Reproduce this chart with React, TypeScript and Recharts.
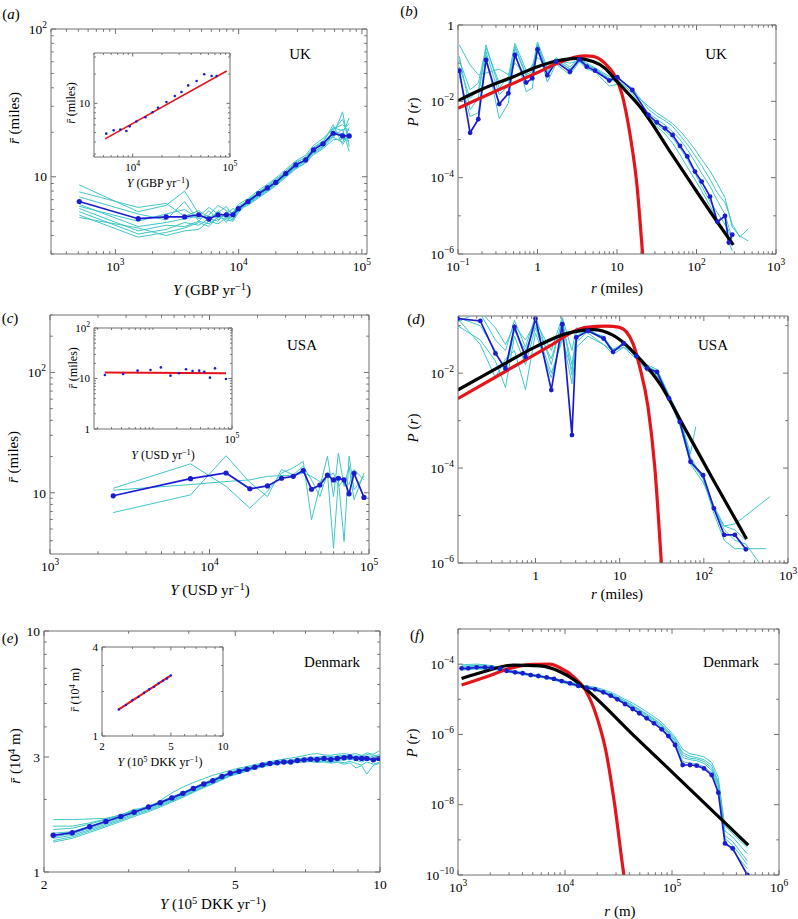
import React from 'react';
import { LineChart, Line, XAxis, YAxis, ReferenceLine } from 'recharts';

const FONT = '"Liberation Serif", "Times New Roman", Times, serif';
const FRAME = '#707070';
const CYAN = '#3fc6c9';
const BLUE = '#1b1bd0';
const RED = '#e3151b';
const BLACK = '#000000';

// (a) UK: mean distance vs income
const ukIncome = [509, 1530, 2580, 3640, 4750, 5740, 6800, 7940, 8990, 9940, 11900, 14500, 17100, 20000, 24100, 29100, 35000, 40500, 48400, 58400, 69700, 78900];
const ukMeanDist = [6.8, 5.2, 5.35, 5.35, 5.53, 5.18, 5.53, 5.53, 5.53, 6.08, 6.8, 7.68, 8.4, 9.16, 10.5, 12.05, 13.0, 15.2, 16.7, 19.7, 18.9, 18.9];
const ukSamples = [
  [8.8, 5.8, 6.4, 8.0, 5.6, 5.0, 5.9, 5.2, 5.6, 6.3, 6.9, 7.9, 8.6, 9.4, 10.9, 12.4, 13.6, 15.8, 17.5, 21.5, 20.5, 23.0],
  [7.9, 6.2, 6.6, 5.4, 5.9, 5.3, 5.7, 6.3, 5.4, 6.0, 6.6, 7.4, 8.2, 9.0, 10.2, 11.6, 12.8, 14.6, 16.2, 20.6, 24.5, 18.0],
  [7.3, 5.6, 5.1, 6.8, 5.0, 5.9, 5.1, 5.6, 6.1, 5.8, 7.0, 7.8, 8.7, 9.6, 10.8, 12.6, 13.4, 15.6, 17.2, 18.6, 17.0, 21.5],
  [6.5, 4.6, 4.9, 5.2, 5.4, 6.2, 5.6, 4.9, 5.8, 6.2, 6.5, 7.3, 8.0, 8.9, 10.2, 11.8, 12.7, 14.8, 16.0, 19.0, 27.5, 16.0],
  [6.1, 4.3, 4.7, 4.6, 5.0, 4.8, 5.3, 5.5, 5.2, 5.9, 6.9, 7.7, 8.5, 9.1, 10.4, 12.0, 13.2, 15.1, 16.9, 20.2, 19.5, 25.0],
  [5.8, 4.1, 4.4, 4.9, 4.7, 5.2, 5.0, 5.8, 5.4, 6.1, 6.6, 7.6, 8.3, 9.3, 10.6, 12.2, 12.9, 15.4, 17.0, 22.5, 16.5, 19.5],
  [5.5, 3.9, 4.2, 4.5, 4.9, 4.6, 5.4, 5.1, 5.0, 5.7, 6.7, 7.5, 8.1, 8.8, 10.1, 11.4, 12.5, 14.3, 15.8, 18.5, 21.0, 14.8],
  [5.3, 4.5, 4.0, 4.3, 4.4, 5.0, 4.8, 5.3, 5.1, 6.0, 6.4, 7.2, 7.9, 8.7, 9.9, 11.3, 12.4, 14.1, 15.5, 17.8, 18.0, 17.5],
  [6.3, 5.0, 5.6, 6.0, 5.2, 5.5, 6.4, 5.9, 5.7, 6.5, 7.1, 8.1, 8.9, 9.8, 11.2, 12.8, 14.0, 16.3, 18.2, 21.0, 22.5, 20.5],
];
const ukBinIncome = [5350, 6370, 7460, 8610, 9310, 10900, 13500, 16000, 18200, 22200, 27100, 31700, 37200, 45400, 54300, 64700, 72900];
const ukBinMean = [4.87, 5.27, 5.36, 5.19, 5.79, 6.5, 7.2, 8.1, 9.0, 10.3, 11.9, 13.1, 15.3, 17.0, 19.9, 19.1, 19.1];
const ukFitIncome = [5200, 92500];
const ukFitMean = [4.3, 21.5];

// (b) UK: distance distribution
const gbR = [0.104, 0.142, 0.18, 0.225, 0.33, 0.43, 0.52, 0.72, 0.86, 1.0, 1.33, 1.71, 2.56, 3.36, 4.16, 5.29, 8.0, 10.1, 15.6, 24.8, 31.6, 40.2, 50.1, 62, 76.6, 95.7, 116, 148, 183, 228, 255, 282];
const gbP = [0.0635, 0.0015, 0.0034, 0.121, 0.0085, 0.0162, 0.164, 0.031, 0.04, 0.23, 0.048, 0.109, 0.06, 0.126, 0.081, 0.0635, 0.035, 0.043, 0.0198, 0.0044, 0.0028, 0.00196, 0.00131, 0.00068, 0.00036, 1.44e-4, 7.9e-5, 3.2e-5, 7e-6, 9.9e-6, 2e-6, 3.2e-6];
const gbSamples = [
  [0.15, 0.006, 0.012, 0.3, 0.022, 0.045, 0.33, 0.065, 0.075, 0.36, 0.075, 0.14, 0.08, 0.14, 0.1, 0.075, 0.045, 0.04, 0.022, 0.0062, 0.0042, 0.0031, 0.0022, 0.0013, 7.5e-4, 3.8e-4, 2.1e-4, 9e-5, 4e-5, 2.2e-5, 1.2e-5, 6e-6],
  [0.3, 0.09, 0.05, 0.055, 0.07, 0.05, 0.1, 0.05, 0.09, 0.14, 0.09, 0.12, 0.1, 0.12, 0.09, 0.07, 0.04, 0.03, 0.012, 0.005, 0.0034, 0.0024, 0.0016, 0.001, 5.5e-4, 2.6e-4, 1.3e-4, 6e-5, 2.5e-5, 1.1e-5, 5e-6, 2.5e-6],
  [0.045, 0.004, 0.005, 0.16, 0.0035, 0.009, 0.2, 0.018, 0.022, 0.26, 0.032, 0.095, 0.05, 0.11, 0.07, 0.06, 0.025, 0.028, 0.013, 0.0032, 0.0022, 0.0014, 8e-4, 4e-4, 1.9e-4, 9e-5, 4.5e-5, 1.8e-5, 8e-6, 4e-6, 2e-6, 1.2e-6],
  [0.08, 0.012, 0.02, 0.2, 0.015, 0.025, 0.25, 0.045, 0.05, 0.3, 0.06, 0.12, 0.07, 0.11, 0.09, 0.07, 0.04, 0.038, 0.016, 0.0038, 0.0025, 0.0017, 0.0011, 6e-4, 3e-4, 1.3e-4, 6e-5, 2.4e-5, 1.2e-5, 6e-6, 4e-6, 2e-6],
  [0.12, 0.02, 0.03, 0.25, 0.03, 0.035, 0.28, 0.05, 0.06, 0.32, 0.055, 0.13, 0.07, 0.13, 0.095, 0.07, 0.038, 0.036, 0.017, 0.0075, 0.005, 0.0036, 0.0026, 0.0017, 0.001, 5.5e-4, 3e-4, 1.5e-4, 7e-5, 3e-5, 1.2e-5, 5e-6],
];
const gbTailR = [350, 447];
const gbSampleTails = [[2.8e-6, 4.5e-6], [], [], [], [3e-6, 2.2e-6]];
const gbFitR = [0.1, 0.2, 0.5, 1, 2, 3, 5, 7, 10, 19.5, 50, 91, 198, 290];
const gbFitP = [0.0104, 0.0207, 0.0443, 0.081, 0.121, 0.134, 0.11, 0.075, 0.033, 0.0072, 3.85e-4, 5.9e-5, 5.4e-6, 1.74e-6];
const gbGravR = [0.1, 0.3, 1, 2, 3, 4, 5, 6, 7, 9, 11.5, 14.5, 17.9, 21, 23];
const gbGravP = [0.0066, 0.0186, 0.057, 0.11, 0.145, 0.155, 0.15, 0.13, 0.1, 0.054, 0.016, 0.00145, 5.8e-5, 1e-6, 1e-7];

// (c) USA: mean distance vs income
const usIncome = [2490, 7600, 12700, 17900, 23100, 28300, 33500, 38700, 43600, 49200, 54900, 59900, 64300, 69800, 75000, 80600, 93000];
const usMeanDist = [9.44, 13.1, 14.6, 10.8, 11.4, 13.2, 13.7, 15.3, 10.7, 11.6, 14.0, 12.8, 13.2, 12.8, 9.8, 14.5, 9.15];
const usSamples = [
  [10.9, 17.4, 11.3, 7.45, 10.3, 14.6, 16.1, 18.2, 5.96, 11.3, 20.1, 9.3, 21.4, 11.3, 16.6, 8.75, 14.6],
  [6.85, 9.6, 20.3, 12.2, 9.3, 15.6, 14.1, 16.6, 12.8, 9.3, 14.6, 3.46, 12.8, 3.93, 20.1, 10.6, 13.7],
  [10.5, 11.7, 12.4, 12.8, 13.7, 13.9, 13.9, 14.6, 13.7, 12.4, 13.7, 14.6, 11.3, 12.8, 11.7, 15.6, 12.8],
];
const usBinIncome = [2470, 4210, 6400, 9330, 12600, 16700, 21300, 26200, 31700, 38500, 44600, 52700, 61000, 84000];
const usBinMean = [11.7, 12.3, 14.3, 14.7, 16.6, 11.4, 12.7, 15.2, 14.1, 14.3, 13.6, 10.4, 15.9, 9.8];
const usFitIncome = [2470, 84000];
const usFitMean = [13.2, 12.7];

// (d) USA: distance distribution
const usR = [0.119, 0.221, 0.334, 0.44, 0.562, 0.76, 1.0, 1.54, 2.08, 2.71, 3.05, 4.2, 6.45, 8.33, 11.2, 15.8, 21.1, 27.8, 38.6, 51.8, 69.4, 98, 131.6, 174.6, 234, 316];
const usP = [0.1415, 0.126, 0.026, 0.0126, 0.0944, 0.022, 0.1415, 0.0044, 0.1076, 0.000495, 0.0565, 0.0778, 0.0537, 0.0281, 0.0422, 0.0228, 0.0126, 0.0106, 0.00293, 0.00094, 0.000136, 7.1e-5, 1.42e-5, 3.9e-6, 3.9e-6, 1.94e-6];
const usPSamples = [
  [0.16, 0.18, 0.05, 0.03, 0.13, 0.035, 0.16, 0.015, 0.14, 0.009, 0.07, 0.08, 0.05, 0.032, 0.04, 0.025, 0.014, 0.011, 0.0033, 0.0011, 1.7e-4, 6e-5, 1.6e-5, 6e-6, 5e-6, 3e-6],
  [0.1, 0.05, 0.018, 0.005, 0.06, 0.015, 0.09, 0.01, 0.05, 0.012, 0.045, 0.075, 0.06, 0.03, 0.045, 0.02, 0.012, 0.009, 0.0028, 8e-4, 1.3e-4, 6e-5, 1.1e-5, 3e-6, 2e-6, 2e-6],
  [0.14, 0.04, 0.008, 0.02, 0.03, 0.0045, 0.07, 0.008, 0.06, 0.006, 0.035, 0.06, 0.04, 0.025, 0.035, 0.02, 0.011, 0.01, 0.0027, 9e-4, 1.2e-4, 5e-5, 1.5e-5, 5e-6, 3e-6, 2.5e-6],
  [0.12, 0.2, 0.09, 0.04, 0.1, 0.05, 0.12, 0.03, 0.15, 0.03, 0.09, 0.07, 0.04, 0.03, 0.035, 0.025, 0.015, 0.012, 0.0035, 0.0012, 2e-4],
  [0.15, 0.1, 0.03, 0.01, 0.08, 0.03, 0.1, 0.02, 0.12, 0.015, 0.06, 0.085, 0.055, 0.03, 0.04, 0.022, 0.013, 0.01, 0.003, 9e-4, 1.5e-4, 6e-5, 1.4e-5, 6e-6, 6.7e-6, 1e-5],
];
const usTailR = [[], [550], [500], [80], [611]];
const usTailP = [[], [2e-6], [8e-7], [7.4e-4], [2.5e-5]];
const usFitR = [0.119, 0.37, 1.0, 2.32, 4.8, 8.3, 12, 15.8, 30, 57, 128, 322];
const usFitP = [0.0044, 0.0136, 0.0358, 0.068, 0.083, 0.063, 0.039, 0.024, 0.006, 7.9e-4, 5.8e-5, 3.2e-6];
const usGravR = [0.119, 0.5, 1.5, 3.05, 4.0, 6.94, 10, 14.4, 17.3, 21.7, 26.1, 31.3, 34];
const usGravP = [0.0029, 0.0124, 0.038, 0.08, 0.092, 0.098, 0.092, 0.042, 0.0136, 0.00195, 1.07e-4, 1e-6, 1e-7];

// (e) Denmark: mean distance vs income
const dkIncome = [2.09, 2.29, 2.49, 2.69, 2.89, 3.08, 3.3, 3.49, 3.69, 3.89, 4.09, 4.3, 4.49, 4.69, 4.88, 5.09, 5.29, 5.49, 5.69, 5.9, 6.11, 6.31, 6.52, 6.73, 6.95, 7.17, 7.4, 7.65, 7.9, 8.15, 8.42, 8.66, 8.92, 9.16, 9.39, 9.69, 9.96];
const dkMeanDist = [1.42, 1.456, 1.54, 1.62, 1.7, 1.77, 1.86, 1.94, 2.03, 2.12, 2.22, 2.32, 2.39, 2.49, 2.57, 2.62, 2.67, 2.72, 2.78, 2.82, 2.84, 2.86, 2.86, 2.9, 2.92, 2.94, 2.93, 2.96, 2.93, 2.96, 2.98, 3.0, 2.96, 2.96, 2.96, 2.92, 2.96];
const dkSamples = [
  [1.65, 1.65, 1.66, 1.67, 1.72, 1.82, 1.84, 1.98, 2.13, 2.25, 2.35, 2.44, 2.52, 2.58, 2.64, 2.7, 2.74, 2.79, 2.83, 2.87, 2.91, 2.94, 2.97, 3.0, 3.04, 3.08, 3.1, 3.06, 3.05, 3.08, 3.1, 3.07, 3.1, 3.04, 3.12, 3.08, 3.18],
  [1.5, 1.52, 1.58, 1.65, 1.72, 1.79, 1.87, 1.95, 2.04, 2.13, 2.23, 2.33, 2.41, 2.5, 2.58, 2.64, 2.69, 2.74, 2.8, 2.84, 2.87, 2.89, 2.9, 2.93, 2.95, 2.97, 2.98, 3.0, 3.02, 3.0, 3.04, 3.03, 3.0, 3.05, 2.98, 3.02, 3.07],
  [1.45, 1.47, 1.55, 1.63, 1.71, 1.78, 1.86, 1.94, 2.02, 2.1, 2.2, 2.29, 2.37, 2.46, 2.54, 2.6, 2.65, 2.71, 2.76, 2.8, 2.83, 2.85, 2.86, 2.88, 2.9, 2.92, 2.91, 2.94, 2.9, 2.93, 2.95, 2.92, 2.97, 2.9, 2.94, 2.88, 2.93],
  [1.38, 1.42, 1.5, 1.58, 1.66, 1.74, 1.82, 1.9, 1.98, 2.07, 2.16, 2.26, 2.34, 2.43, 2.52, 2.58, 2.64, 2.7, 2.75, 2.79, 2.82, 2.84, 2.85, 2.87, 2.88, 2.9, 2.88, 2.9, 2.87, 2.9, 2.92, 2.95, 2.9, 2.86, 2.92, 2.95, 2.9],
  [1.35, 1.4, 1.48, 1.56, 1.64, 1.72, 1.8, 1.88, 1.97, 2.06, 2.15, 2.25, 2.33, 2.42, 2.51, 2.58, 2.63, 2.69, 2.74, 2.78, 2.81, 2.83, 2.84, 2.86, 2.87, 2.89, 2.86, 2.88, 2.85, 2.87, 2.84, 2.88, 2.82, 2.78, 2.86, 2.8, 2.85],
  [1.33, 1.38, 1.46, 1.54, 1.62, 1.7, 1.78, 1.86, 1.95, 2.04, 2.14, 2.24, 2.32, 2.41, 2.5, 2.56, 2.62, 2.68, 2.73, 2.77, 2.8, 2.82, 2.83, 2.85, 2.86, 2.87, 2.85, 2.86, 2.83, 2.85, 2.8, 2.84, 2.7, 2.76, 2.55, 2.77, 2.82],
  [1.55, 1.55, 1.6, 1.66, 1.73, 1.8, 1.88, 1.96, 2.05, 2.14, 2.24, 2.34, 2.43, 2.52, 2.6, 2.66, 2.71, 2.76, 2.81, 2.85, 2.88, 2.9, 2.91, 2.95, 2.97, 2.99, 3.0, 3.02, 2.98, 3.03, 3.05, 3.0, 3.04, 3.0, 3.07, 3.05, 3.0],
  [1.4, 1.44, 1.52, 1.6, 1.68, 1.76, 1.84, 1.92, 2.0, 2.09, 2.18, 2.28, 2.36, 2.45, 2.53, 2.6, 2.66, 2.72, 2.77, 2.81, 2.85, 2.87, 2.88, 2.91, 2.93, 2.95, 2.94, 2.97, 2.95, 2.98, 3.0, 2.97, 2.99, 2.92, 2.99, 2.96, 3.02],
];
const dkBinIncome = [2.5, 2.75, 3.0, 3.25, 3.5, 3.75, 4.0, 4.25, 4.5, 4.75, 5.0];
const dkBinMean = [1.51, 1.62, 1.75, 1.84, 1.96, 2.07, 2.15, 2.27, 2.37, 2.45, 2.57];
const dkFitIncome = [2.49, 4.98];
const dkFitMean = [1.51, 2.56];

// (f) Denmark: distance distribution (m)
const dkR = [1080, 1249, 1494, 1788, 2064, 2470, 2850, 3410, 4020, 4780, 5630, 6740, 7890, 9310, 11140, 13320, 15940, 19070, 22820, 26720, 30840, 36370, 42900, 49520, 57990, 67890, 80100, 92400, 106700, 125800, 147300, 170100, 199100, 234900, 271000, 312800, 369000, 505800];
const dkP = [7.6e-5, 7.6e-5, 8.1e-5, 8.1e-5, 7.9e-5, 7.4e-5, 6.4e-5, 5.85e-5, 5.5e-5, 4.9e-5, 4.6e-5, 4.2e-5, 3.8e-5, 3.3e-5, 2.85e-5, 2.4e-5, 2.14e-5, 1.92e-5, 1.58e-5, 1.27e-5, 1.0e-5, 7.3e-6, 5.3e-6, 4.0e-6, 2.87e-6, 2.07e-6, 1.4e-6, 9.0e-7, 5.0e-7, 1.35e-7, 1.35e-7, 1.29e-7, 1.08e-7, 7.0e-8, 2.2e-8, 7.9e-10, 5.7e-10, 1e-10];
const dkPSamples = [
  [9.5e-5, 9.8e-5, 1.0e-4, 9.6e-5, 9.0e-5, 8.0e-5, 7.0e-5, 6.3e-5, 5.8e-5, 5.2e-5, 4.8e-5, 4.4e-5, 4.0e-5, 3.5e-5, 3.1e-5, 2.7e-5, 2.4e-5, 2.2e-5, 1.9e-5, 1.6e-5, 1.3e-5, 1.0e-5, 7.8e-6, 6.0e-6, 4.4e-6, 3.2e-6, 2.2e-6, 1.4e-6, 8.5e-7, 3.8e-7, 2.8e-7, 2.6e-7, 2.3e-7, 1.6e-7, 6e-8, 1.8e-9, 1.2e-9, 4e-10],
  [8.8e-5, 9.0e-5, 9.2e-5, 8.8e-5, 8.4e-5, 7.8e-5, 6.8e-5, 6.1e-5, 5.7e-5, 5.1e-5, 4.7e-5, 4.3e-5, 3.9e-5, 3.4e-5, 3.0e-5, 2.6e-5, 2.3e-5, 2.05e-5, 1.75e-5, 1.45e-5, 1.18e-5, 9.0e-6, 6.8e-6, 5.2e-6, 3.8e-6, 2.8e-6, 1.9e-6, 1.25e-6, 7.5e-7, 3.0e-7, 2.4e-7, 2.2e-7, 1.9e-7, 1.3e-7, 4.5e-8, 1.3e-9, 9e-10, 2.5e-10],
  [7.0e-5, 7.2e-5, 7.5e-5, 7.6e-5, 7.6e-5, 7.2e-5, 6.3e-5, 5.7e-5, 5.3e-5, 4.8e-5, 4.4e-5, 4.0e-5, 3.6e-5, 3.2e-5, 2.8e-5, 2.4e-5, 2.15e-5, 1.9e-5, 1.6e-5, 1.32e-5, 1.06e-5, 8.0e-6, 6.0e-6, 4.6e-6, 3.3e-6, 2.4e-6, 1.65e-6, 1.05e-6, 6.2e-7, 2.2e-7, 1.9e-7, 1.8e-7, 1.5e-7, 9.5e-8, 3.5e-8, 1.1e-9, 7e-10, 2e-10],
  [8.2e-5, 8.5e-5, 8.8e-5, 8.5e-5, 8.2e-5, 7.6e-5, 6.6e-5, 6.0e-5, 5.6e-5, 5.0e-5, 4.6e-5, 4.2e-5, 3.8e-5, 3.35e-5, 2.95e-5, 2.55e-5, 2.25e-5, 2.0e-5, 1.7e-5, 1.4e-5, 1.12e-5, 8.6e-6, 6.4e-6, 4.9e-6, 3.6e-6, 2.6e-6, 1.8e-6, 1.15e-6, 6.8e-7, 2.6e-7, 2.1e-7, 2.0e-7, 1.7e-7, 1.1e-7, 4e-8, 2.5e-9, 1.5e-9, 6e-10],
  [6.8e-5, 7.0e-5, 7.3e-5, 7.2e-5, 7.0e-5, 6.8e-5, 6.0e-5, 5.5e-5, 5.1e-5, 4.6e-5, 4.3e-5, 3.9e-5, 3.5e-5, 3.0e-5, 2.6e-5, 2.25e-5, 2.0e-5, 1.8e-5, 1.5e-5, 1.22e-5, 9.6e-6, 7.2e-6, 5.4e-6, 4.1e-6, 3.0e-6, 2.15e-6, 1.5e-6, 9.5e-7, 5.5e-7, 1.7e-7, 1.5e-7, 1.45e-7, 1.2e-7, 8e-8, 3e-8, 9e-10, 5e-10, 1.5e-10],
];
const dkFitR = [1080, 1730, 3290, 5840, 8980, 12000, 16000, 43500, 127600, 516000];
const dkFitP = [3.9e-5, 6.1e-5, 9.4e-5, 8.9e-5, 6.1e-5, 3.7e-5, 1.84e-5, 9.6e-7, 4.2e-8, 7.1e-10];
const dkGravR = [1080, 1850, 3060, 5060, 7240, 8980, 12000, 15500, 19800, 24000, 29000, 35500, 40000];
const dkGravP = [2.55e-5, 4.4e-5, 7.6e-5, 9.9e-5, 1.0e-4, 7.9e-5, 4.4e-5, 1.84e-5, 3.2e-6, 3.6e-7, 1.1e-8, 1e-10, 1e-11];

type Pt = { x: number; y: number };
const pts = (xs: number[], ys: number[], tx: number[] = [], ty: number[] = []): Pt[] => [
  ...ys.map((y, i) => ({ x: xs[i], y })),
  ...ty.map((y, i) => ({ x: tx[i], y })),
];

type Lab = string | [string, string];
const pow10 = (v: number): Lab => {
  const e = Math.round(Math.log10(v));
  if (e === 0) return '1';
  if (e === 1) return '10';
  return ['10', e < 0 ? '\u2212' + -e : String(e)];
};
const plain = (v: number): Lab => String(v);

function logTicks(lo: number, hi: number, steps: number[]): number[] {
  const out: number[] = [];
  for (let e = Math.floor(Math.log10(lo)); e <= Math.ceil(Math.log10(hi)); e++) {
    for (const m of steps) {
      const v = m * Math.pow(10, e);
      if (v >= lo * 0.999 && v <= hi * 1.001) out.push(v);
    }
  }
  return out;
}
const MIN = [2, 3, 4, 5, 6, 7, 8, 9];
const near = (list: number[], v: number) => list.some((m) => Math.abs(m - v) <= Math.abs(m) * 1e-6);

function TickText({ x, y, anchor, lab, fs }: { x: number; y: number; anchor: 'start' | 'middle' | 'end'; lab: Lab; fs: number }) {
  if (typeof lab === 'string')
    return (
      <text x={x} y={y} textAnchor={anchor} fontSize={fs} fontFamily={FONT} fill="#000">
        {lab}
      </text>
    );
  return (
    <text x={x} y={y} textAnchor={anchor} fontSize={fs} fontFamily={FONT} fill="#000">
      {lab[0]}
      <tspan dy={-fs * 0.42} fontSize={fs * 0.7}>
        {lab[1]}
      </tspan>
    </text>
  );
}

interface Series { data: Pt[]; color: string; width: number; dot?: number; curve?: 'linear' | 'monotone'; hideLine?: boolean }
interface AxisSpec { domain: [number, number]; major: number[]; minor: number[]; fmt: (v: number) => Lab }
interface PanelProps { left: number; top: number; width: number; height: number; x: AxisSpec; y: AxisSpec; series: Series[]; fs: number; tick: number }

function LogPanel({ left, top, width, height, x, y, series, fs, tick }: PanelProps) {
  const padL = 50, padR = 18, padT = 12, padB = 30;
  const xTicks = [...x.major, ...x.minor.filter((v) => !near(x.major, v))].sort((a, b) => a - b);
  const yTicks = [...y.major, ...y.minor.filter((v) => !near(y.major, v))].sort((a, b) => a - b);

  const xTick = (props: any) => {
    const px = props.x, py = props.y, v = props.payload.value;
    const major = near(x.major, v);
    const len = major ? tick : tick * 0.55;
    return (
      <g>
        <line x1={px} x2={px} y1={py} y2={py - len} stroke={FRAME} />
        <line x1={px} x2={px} y1={py - height} y2={py - height + len} stroke={FRAME} />
        {major && <TickText x={px} y={py + fs + 3} anchor="middle" lab={x.fmt(v)} fs={fs} />}
      </g>
    );
  };
  const yTick = (props: any) => {
    const px = props.x, py = props.y, v = props.payload.value;
    const major = near(y.major, v);
    const len = major ? tick : tick * 0.55;
    return (
      <g>
        <line x1={px} x2={px + len} y1={py} y2={py} stroke={FRAME} />
        <line x1={px + width} x2={px + width - len} y1={py} y2={py} stroke={FRAME} />
        {major && <TickText x={px - 4} y={py + fs * 0.35} anchor="end" lab={y.fmt(v)} fs={fs} />}
      </g>
    );
  };

  return (
    <div style={{ position: 'absolute', left: left - padL, top: top - padT }}>
      <LineChart width={width + padL + padR} height={height + padT + padB} margin={{ top: padT, right: padR, bottom: 0, left: 0 }}>
        <XAxis dataKey="x" type="number" scale="log" domain={x.domain} allowDataOverflow ticks={xTicks} interval={0}
          tick={xTick} tickLine={false} tickSize={0} tickMargin={0} axisLine={{ stroke: FRAME }} height={padB} />
        <YAxis dataKey="y" type="number" scale="log" domain={y.domain} allowDataOverflow ticks={yTicks} interval={0}
          tick={yTick} tickLine={false} tickSize={0} tickMargin={0} axisLine={{ stroke: FRAME }} width={padL} />
        <ReferenceLine y={y.domain[1]} stroke={FRAME} />
        <ReferenceLine x={x.domain[1]} stroke={FRAME} />
        {series.map((s, i) => (
          <Line key={i} data={s.data} dataKey="y" type={s.curve ?? 'linear'}
            stroke={s.hideLine ? 'none' : s.color} strokeWidth={s.width}
            dot={s.dot ? { r: s.dot, fill: s.color, stroke: 'none' } : false}
            activeDot={false} isAnimationActive={false} />
        ))}
      </LineChart>
    </div>
  );
}

function Txt({ x, y, size = 15, rotate = false, children }: { x: number; y: number; size?: number; rotate?: boolean; children: React.ReactNode }) {
  return (
    <div style={{ position: 'absolute', left: x, top: y, transform: `translate(-50%, -50%)${rotate ? ' rotate(-90deg)' : ''}`,
      fontSize: size, lineHeight: 1, whiteSpace: 'nowrap', fontFamily: FONT, color: '#000' }}>
      {children}
    </div>
  );
}
const Sup = ({ children }: { children: React.ReactNode }) => (
  <sup style={{ fontSize: '0.7em', verticalAlign: '0.45em', lineHeight: 0 }}>{children}</sup>
);
const RBar = () => <i>r&#772;</i>;

const cyanLines = (xs: number[], sets: number[][], tx: number[][] = [], ty: number[][] = []): Series[] =>
  sets.map((ys, i) => ({ data: pts(xs, ys, tx[i] ?? [], ty[i] ?? []), color: CYAN, width: 1 }));

export default function App() {
  const big = 13.5;
  const small = 11;
  return (
    <div style={{ position: 'absolute', left: 0, top: 0, width: 798, height: 919, background: '#fff', overflow: 'hidden' }}>
      {/* (a) */}
      <LogPanel left={51} top={29} width={316} height={225} fs={big} tick={5}
        x={{ domain: [300, 110000], major: [1e3, 1e4, 1e5], minor: logTicks(300, 110000, MIN), fmt: pow10 }}
        y={{ domain: [3, 100], major: [10, 100], minor: logTicks(3, 100, MIN), fmt: pow10 }}
        series={[
          ...cyanLines(ukIncome, ukSamples),
          { data: pts(ukIncome, ukMeanDist), color: BLUE, width: 1.7, dot: 2.6 },
        ]} />
      <LogPanel left={94} top={53} width={136} height={104} fs={small} tick={3.5}
        x={{ domain: [4000, 100000], major: [1e4, 1e5], minor: logTicks(4000, 100000, MIN), fmt: pow10 }}
        y={{ domain: [2.8, 33], major: [10], minor: logTicks(2.8, 33, MIN), fmt: pow10 }}
        series={[
          { data: pts(ukFitIncome, ukFitMean), color: RED, width: 1.6 },
          { data: pts(ukBinIncome, ukBinMean), color: BLUE, width: 0, dot: 1.3, hideLine: true },
        ]} />

      {/* (b) */}
      <LogPanel left={458} top={25} width={318} height={229} fs={big} tick={5}
        x={{ domain: [0.1, 1000], major: [0.1, 1, 10, 100, 1000], minor: logTicks(0.1, 1000, MIN), fmt: pow10 }}
        y={{ domain: [1e-6, 1], major: [1e-6, 1e-4, 1e-2, 1], minor: logTicks(1e-6, 1, [1]), fmt: pow10 }}
        series={[
          ...cyanLines(gbR, gbSamples, gbSampleTails.map((t) => gbTailR.slice(0, t.length)), gbSampleTails),
          { data: pts(gbR, gbP), color: BLUE, width: 1.7, dot: 2.4 },
          { data: pts(gbGravR, gbGravP), color: RED, width: 3.2, curve: 'monotone' },
          { data: pts(gbFitR, gbFitP), color: BLACK, width: 3.2, curve: 'monotone' },
        ]} />

      {/* (c) */}
      <LogPanel left={50} top={315} width={319} height={239} fs={big} tick={5}
        x={{ domain: [1000, 100000], major: [1e3, 1e4, 1e5], minor: logTicks(1000, 100000, MIN), fmt: pow10 }}
        y={{ domain: [3.1, 300], major: [10, 100], minor: logTicks(3.1, 300, MIN), fmt: pow10 }}
        series={[
          ...cyanLines(usIncome, usSamples),
          { data: pts(usIncome, usMeanDist), color: BLUE, width: 1.7, dot: 2.6 },
        ]} />
      <LogPanel left={94} top={328} width={138} height={101} fs={small} tick={3.5}
        x={{ domain: [1800, 100000], major: [1e5], minor: logTicks(1800, 100000, MIN.concat([1])), fmt: pow10 }}
        y={{ domain: [1, 100], major: [1, 10, 100], minor: logTicks(1, 100, MIN), fmt: pow10 }}
        series={[
          { data: pts(usFitIncome, usFitMean), color: RED, width: 2 },
          { data: pts(usBinIncome, usBinMean), color: BLUE, width: 0, dot: 1.3, hideLine: true },
        ]} />

      {/* (d) */}
      <LogPanel left={458} top={316} width={330} height={247} fs={big} tick={5}
        x={{ domain: [0.12, 1000], major: [1, 10, 100, 1000], minor: logTicks(0.12, 1000, MIN), fmt: pow10 }}
        y={{ domain: [1e-6, 0.16], major: [1e-6, 1e-4, 1e-2], minor: logTicks(1e-6, 0.16, [1]), fmt: pow10 }}
        series={[
          ...cyanLines(usR, usPSamples, usTailR, usTailP),
          { data: pts(usR, usP), color: BLUE, width: 1.7, dot: 2.4 },
          { data: pts(usGravR, usGravP), color: RED, width: 3.2, curve: 'monotone' },
          { data: pts(usFitR, usFitP), color: BLACK, width: 3.2, curve: 'monotone' },
        ]} />

      {/* (e) */}
      <LogPanel left={44} top={631} width={336} height={241} fs={big} tick={5}
        x={{ domain: [2, 10], major: [2, 5, 10], minor: [3, 4, 6, 7, 8, 9], fmt: plain }}
        y={{ domain: [1, 10], major: [1, 3, 10], minor: [2, 4, 5, 6, 7, 8, 9], fmt: plain }}
        series={[
          ...cyanLines(dkIncome, dkSamples),
          { data: pts(dkIncome, dkMeanDist), color: BLUE, width: 1.7, dot: 2.7 },
        ]} />
      <LogPanel left={102} top={647} width={121} height={89} fs={small} tick={3.5}
        x={{ domain: [2, 10], major: [2, 5, 10], minor: [3, 4, 6, 7, 8, 9], fmt: plain }}
        y={{ domain: [1, 4], major: [1, 4], minor: [2, 3], fmt: plain }}
        series={[
          { data: pts(dkFitIncome, dkFitMean), color: RED, width: 2 },
          { data: pts(dkBinIncome, dkBinMean), color: BLUE, width: 0, dot: 1.2, hideLine: true },
        ]} />

      {/* (f) */}
      <LogPanel left={458} top={629} width={321} height={246} fs={big} tick={5}
        x={{ domain: [1000, 1e6], major: [1e3, 1e4, 1e5, 1e6], minor: logTicks(1000, 1e6, MIN), fmt: pow10 }}
        y={{ domain: [1e-10, 1e-3], major: [1e-10, 1e-8, 1e-6, 1e-4], minor: logTicks(1e-10, 1e-3, [1]), fmt: pow10 }}
        series={[
          ...cyanLines(dkR, dkPSamples),
          { data: pts(dkR, dkP), color: BLUE, width: 1.7, dot: 2.4 },
          { data: pts(dkGravR, dkGravP), color: RED, width: 3.2, curve: 'monotone' },
          { data: pts(dkFitR, dkFitP), color: BLACK, width: 3.2, curve: 'monotone' },
        ]} />

      {/* text */}
      <Txt x={11} y={14}>(<i>a</i>)</Txt>
      <Txt x={300} y={54}>UK</Txt>
      <Txt x={14} y={118} rotate><RBar /> (miles)</Txt>
      <Txt x={212} y={290}><i>Y</i> (GBP yr<Sup>−1</Sup>)</Txt>
      <Txt x={158} y={183} size={12}><i>Y</i> (GBP yr<Sup>−1</Sup>)</Txt>
      <Txt x={71} y={103} size={12} rotate><RBar /> (miles)</Txt>

      <Txt x={409} y={11}>(<i>b</i>)</Txt>
      <Txt x={716} y={54}>UK</Txt>
      <Txt x={413} y={112} rotate><i>P</i> (<i>r</i>)</Txt>
      <Txt x={617} y={288}><i>r</i> (miles)</Txt>

      <Txt x={10} y={318}>(<i>c</i>)</Txt>
      <Txt x={302} y={345}>USA</Txt>
      <Txt x={13} y={457} rotate><RBar /> (miles)</Txt>
      <Txt x={210} y={590}><i>Y</i> (USD yr<Sup>−1</Sup>)</Txt>
      <Txt x={163} y={455} size={12}><i>Y</i> (USD yr<Sup>−1</Sup>)</Txt>
      <Txt x={73} y={368} size={12} rotate><RBar /> (miles)</Txt>

      <Txt x={416} y={319}>(<i>d</i>)</Txt>
      <Txt x={713} y={345}>USA</Txt>
      <Txt x={413} y={428} rotate><i>P</i> (<i>r</i>)</Txt>
      <Txt x={617} y={594}><i>r</i> (miles)</Txt>

      <Txt x={10} y={638}>(<i>e</i>)</Txt>
      <Txt x={332} y={662}>Denmark</Txt>
      <Txt x={15} y={756} rotate><RBar /> (10<Sup>4</Sup> m)</Txt>
      <Txt x={213} y={904}><i>Y</i> (10<Sup>5</Sup> DKK yr<Sup>−1</Sup>)</Txt>
      <Txt x={160} y={762} size={12}><i>Y</i> (10<Sup>5</Sup> DKK yr<Sup>−1</Sup>)</Txt>
      <Txt x={75} y={690} size={12} rotate><RBar /> (10<Sup>4</Sup> m)</Txt>

      <Txt x={417} y={635}>(<i>f</i>)</Txt>
      <Txt x={731} y={662}>Denmark</Txt>
      <Txt x={412} y={743} rotate><i>P</i> (<i>r</i>)</Txt>
      <Txt x={620} y={911}><i>r</i> (m)</Txt>
    </div>
  );
}
